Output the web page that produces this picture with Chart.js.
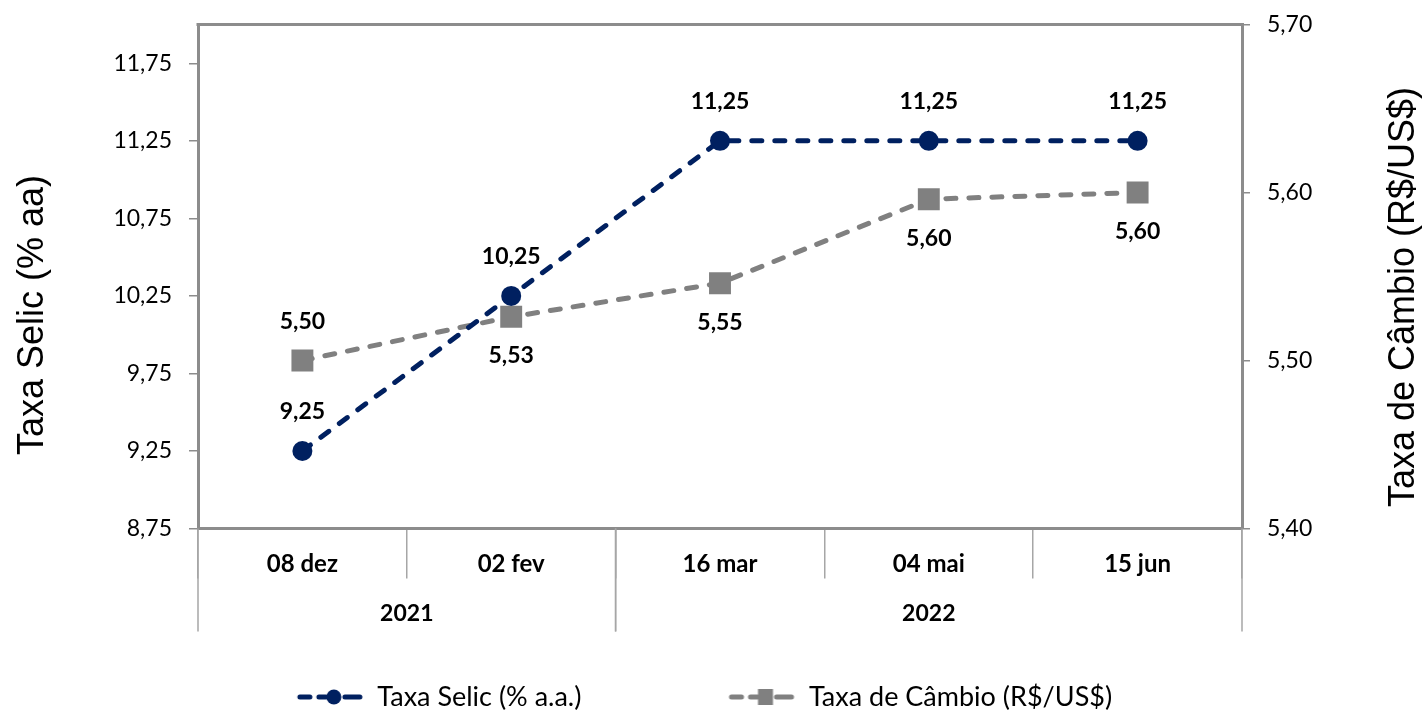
<!DOCTYPE html>
<html lang="pt-BR">
<head>
<meta charset="utf-8">
<title>Taxa Selic e Taxa de Câmbio</title>
<script src="https://cdn.jsdelivr.net/npm/chart.js@4.4.1/dist/chart.umd.min.js"></script>
<style>
  html, body { margin: 0; padding: 0; background: #fff; }
  canvas { display: block; }
</style>
</head>
<body>
<canvas id="grafico" width="1425" height="710"></canvas>
<script>
// dados
const categorias = ['08 dez', '02 fev', '16 mar', '04 mai', '15 jun'];
const anos = ['2021', '2021', '2022', '2022', '2022'];
const selic = [9.25, 10.25, 11.25, 11.25, 11.25];
const cambio = [5.50, 5.526, 5.546, 5.596, 5.60];
const ticksSelic = [8.75, 9.25, 9.75, 10.25, 10.75, 11.25, 11.75];
const ticksCambio = [5.40, 5.50, 5.60, 5.70];

const AZUL = '#002060';
const CINZA = '#808080';
const EIXO = '#8c8c8c';
const DIVISAO = '#a6a6a6';
const fonte = 'Lato';

const fmt = v => v.toFixed(2).replace('.', ',');

// ícone da legenda: linha tracejada com o marcador no meio
function iconeLegenda(cor, forma) {
  const c = document.createElement('canvas');
  c.width = 204;
  c.height = 24;
  const g = c.getContext('2d');
  const x0 = c.width - 66, y = 12;
  g.strokeStyle = cor;
  g.fillStyle = cor;
  g.lineWidth = 5;
  g.lineCap = 'round';
  [[2, 12], [21, 28], [47, 62]].forEach(([a, b]) => {
    g.beginPath();
    g.moveTo(x0 + a, y);
    g.lineTo(x0 + b, y);
    g.stroke();
  });
  if (forma === 'circulo') {
    g.beginPath();
    g.arc(x0 + 36, y, 7.5, 0, Math.PI * 2);
    g.fill();
  } else {
    g.fillRect(x0 + 28.5, y - 8, 15, 16);
  }
  return c;
}
const icones = [iconeLegenda(AZUL, 'circulo'), iconeLegenda(CINZA, 'quadrado')];

const rotulosPontos = {
  id: 'rotulosPontos',
  afterDatasetsDraw(chart) {
    const { ctx } = chart;
    ctx.save();
    ctx.font = `bold 23px ${fonte}`;
    ctx.fillStyle = '#000';
    ctx.textAlign = 'center';
    ctx.textBaseline = 'middle';
    chart.data.datasets.forEach((ds, i) => {
      chart.getDatasetMeta(i).data.forEach((pt, j) => {
        const dy = ds.lados[j] === 'acima' ? -39 : 39;
        ctx.fillText(fmt(ds.data[j]), pt.x, pt.y + dy);
      });
    });
    ctx.restore();
  }
};

// segundo nível do eixo x (anos)
const anosEixo = {
  id: 'anosEixo',
  afterDraw(chart) {
    const x = chart.scales.x;
    const { ctx } = chart;
    const meia = (x.getPixelForValue(1) - x.getPixelForValue(0)) / 2;
    const grupos = [];
    anos.forEach((a, i) => {
      const g = grupos[grupos.length - 1];
      if (g && g.ano === a) g.fim = i;
      else grupos.push({ ano: a, ini: i, fim: i });
    });
    ctx.save();
    ctx.strokeStyle = DIVISAO;
    ctx.lineWidth = 1.5;
    ctx.font = `bold 23px ${fonte}`;
    ctx.fillStyle = '#000';
    ctx.textAlign = 'center';
    ctx.textBaseline = 'middle';
    grupos.forEach(g => {
      const esq = x.getPixelForValue(g.ini) - meia;
      const dir = x.getPixelForValue(g.fim) + meia;
      [esq, dir].forEach(px => {
        ctx.beginPath();
        ctx.moveTo(px, x.top);
        ctx.lineTo(px, x.top + 103);
        ctx.stroke();
      });
      ctx.fillText(g.ano, (esq + dir) / 2, x.top + 85);
    });
    ctx.restore();
  }
};

// moldura superior e títulos dos eixos
const moldura = {
  id: 'moldura',
  afterDraw(chart) {
    const { ctx, chartArea: a } = chart;
    ctx.save();
    ctx.strokeStyle = EIXO;
    ctx.lineWidth = 3;
    ctx.beginPath();
    ctx.moveTo(a.left - 1.5, a.top);
    ctx.lineTo(a.right + 1.5, a.top);
    ctx.stroke();

    ctx.fillStyle = '#000';
    ctx.font = '36px "Liberation Sans", Arial, sans-serif';
    ctx.textAlign = 'center';
    ctx.textBaseline = 'middle';
    [['Taxa Selic (% aa)', 33, 315], ['Taxa de Câmbio (R$/US$)', 1404, 297]].forEach(([t, x, y]) => {
      ctx.save();
      ctx.translate(x, y);
      ctx.rotate(-Math.PI / 2);
      ctx.fillText(t, 0, 0);
      ctx.restore();
    });
    ctx.restore();
  }
};

const ctx = document.getElementById('grafico').getContext('2d');
const grafico = new Chart(ctx, {
  type: 'line',
  data: {
    labels: categorias,
    datasets: [
      {
        label: 'Taxa Selic (% a.a.)',
        data: selic,
        yAxisID: 'y',
        borderColor: AZUL,
        backgroundColor: AZUL,
        borderWidth: 5,
        borderDash: [10, 13],
        borderCapStyle: 'round',
        pointStyle: 'circle',
        pointRadius: 10,
        pointBorderWidth: 0,
        lados: ['acima', 'acima', 'acima', 'acima', 'acima'],
      },
      {
        label: 'Taxa de Câmbio (R$/US$)',
        data: cambio,
        yAxisID: 'y2',
        borderColor: CINZA,
        backgroundColor: CINZA,
        borderWidth: 5,
        borderDash: [10, 13],
        borderCapStyle: 'round',
        pointStyle: 'rect',
        pointRadius: 15.5,
        pointBorderWidth: 0,
        lados: ['acima', 'abaixo', 'abaixo', 'abaixo', 'abaixo'],
      },
    ],
  },
  options: {
    responsive: false,
    animation: false,
    layout: {
      padding: { top: 24.5, left: -40, right: 113, bottom: -10.5 },
    },
    plugins: {
      tooltip: { enabled: false },
      legend: {
        position: 'bottom',
        labels: {
          usePointStyle: true,
          pointStyleWidth: 204,
          padding: 10,
          color: '#000',
          font: { family: fonte, size: 27 },
          generateLabels(chart) {
            const itens = Chart.defaults.plugins.legend.labels.generateLabels(chart);
            return itens.map((it, i) => ({ ...it, pointStyle: icones[i], rotation: 0 }));
          },
        },
      },
    },
    scales: {
      x: {
        offset: true,
        grid: {
          offset: true,
          drawOnChartArea: false,
          tickLength: 50,
          color: DIVISAO,
          lineWidth: 1.5,
        },
        border: { color: EIXO, width: 3 },
        ticks: {
          padding: -29,
          color: '#000',
          autoSkip: false,
          maxRotation: 0,
          font: { family: fonte, size: 24, weight: 'bold' },
        },
        afterFit(s) { s.height = 145; },
      },
      y: {
        position: 'left',
        min: 8.75,
        max: 12.0,
        grid: { drawOnChartArea: false, tickLength: 9, color: EIXO, lineWidth: 1.5 },
        border: { color: EIXO, width: 3 },
        ticks: {
          padding: 17,
          color: '#000',
          font: { family: fonte, size: 23 },
          callback: v => fmt(v),
        },
        afterBuildTicks(s) { s.ticks = ticksSelic.map(v => ({ value: v })); },
        afterFit(s) { s.width = 238; s.paddingTop = 0; s.paddingBottom = 0; },
      },
      y2: {
        position: 'right',
        min: 5.40,
        max: 5.70,
        grid: { drawOnChartArea: false, tickLength: 8, color: EIXO, lineWidth: 1.5 },
        border: { color: EIXO, width: 3 },
        ticks: {
          padding: 17,
          color: '#000',
          font: { family: fonte, size: 23 },
          callback: v => fmt(v),
        },
        afterBuildTicks(s) { s.ticks = ticksCambio.map(v => ({ value: v })); },
        afterFit(s) { s.width = 70; s.paddingTop = 0; s.paddingBottom = 0; },
      },
    },
  },
  plugins: [rotulosPontos, anosEixo, moldura],
});
</script>
</body>
</html>
